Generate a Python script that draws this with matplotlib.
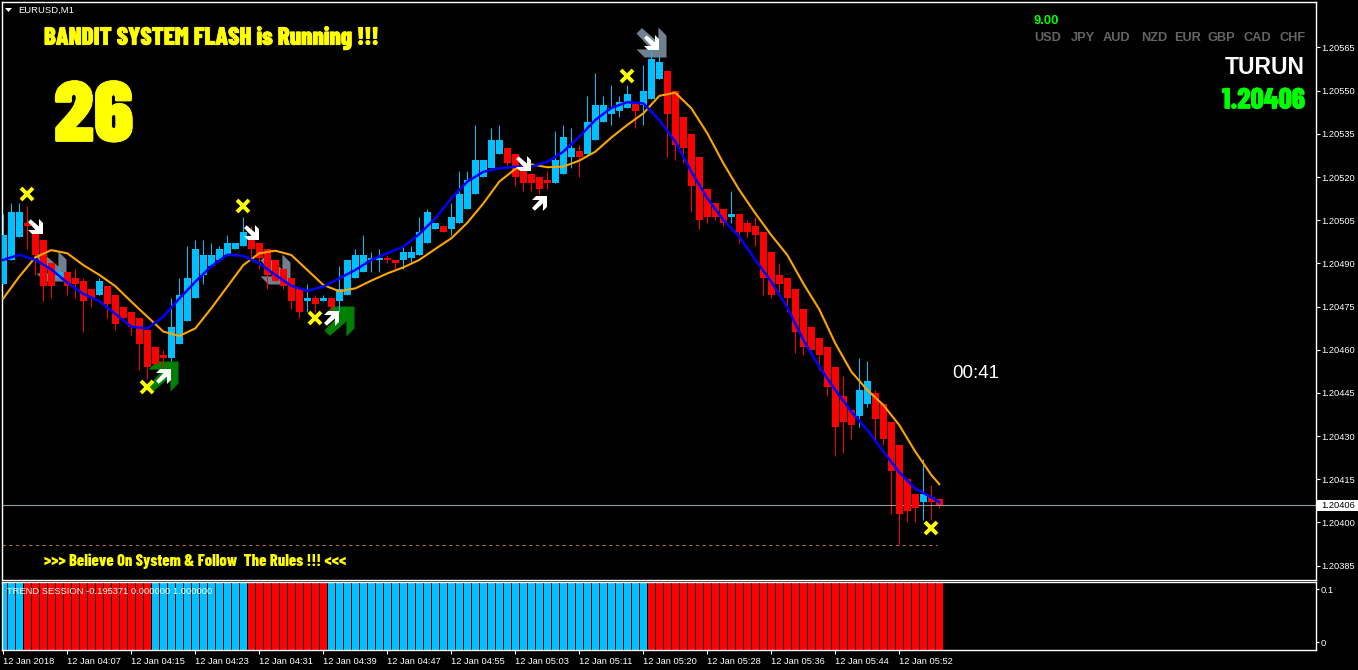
#!/usr/bin/env python3
"""EURUSD M1 terminal chart with the trend session panel underneath."""

import numpy as np
import matplotlib
matplotlib.use("Agg")
import matplotlib.pyplot as plt
from matplotlib.path import Path
from matplotlib.patheffects import withStroke

W, H = 1358, 670
BAR_PX = 8.0
BAR_X0 = 3.3

# prices are kept in points above 1.20000
open_pts = [483, 491, 499, 504, 501, 498, 490, 485, 487, 485, 484, 481, 479, 482, 479, 475, 473, 471, 467, 461,
            458, 457, 462, 470, 478, 486, 489, 491, 493, 495, 496, 499, 497, 495, 491, 488, 485, 481, 477, 478,
            477, 478, 477, 479, 485, 487, 491, 491, 492, 491, 491, 492, 493, 497, 502, 503, 502, 504, 509, 514,
            520, 523, 528, 530, 528, 524, 521, 520, 518, 518, 521, 527, 529, 528, 533, 539, 542, 543, 544, 546,
            545, 547, 554, 557, 550, 541, 535, 527, 516, 511, 509, 506, 507, 504, 503, 501, 494, 486, 485, 481,
            474, 468, 464, 461, 454, 444, 439, 437, 441, 445, 441, 435, 427, 415, 410, 407, 409, 408]
close_pts = [500, 508, 508, 503, 493, 482, 482, 487, 482, 483, 477, 478, 484, 476, 469, 471, 468, 462, 454, 455,
             457, 468, 479, 485, 495, 493, 493, 495, 497, 497, 501, 495, 492, 486, 484, 482, 477, 473, 478, 476,
             478, 475, 481, 491, 493, 493, 492, 492, 491, 490, 494, 494, 501, 508, 504, 501, 506, 514, 519, 526,
             526, 533, 533, 525, 520, 518, 518, 516, 518, 526, 534, 530, 527, 539, 545, 545, 544, 546, 549, 543,
             550, 561, 560, 542, 531, 530, 517, 505, 506, 506, 504, 507, 501, 501, 500, 485, 479, 483, 478, 466,
             461, 460, 458, 447, 433, 435, 434, 446, 449, 436, 429, 418, 403, 404, 405, 410, 407, 406]
high_pts = [507, 511, 511, 510, 504, 498, 490, 489, 487, 488, 485, 481, 485, 482, 479, 475, 473, 471, 467, 461,
            460, 478, 485, 496, 498, 498, 497, 496, 500, 497, 506, 503, 497, 495, 491, 488, 485, 481, 483, 479,
            479, 478, 489, 491, 495, 500, 494, 495, 493, 491, 496, 496, 506, 509, 504, 503, 511, 522, 522, 538,
            526, 537, 538, 530, 528, 524, 521, 520, 522, 536, 538, 537, 531, 548, 556, 548, 552, 548, 552, 546,
            559, 564, 562, 557, 550, 541, 535, 527, 516, 511, 509, 515, 507, 505, 506, 501, 494, 490, 485, 481,
            474, 468, 464, 461, 454, 451, 439, 457, 456, 446, 441, 435, 427, 415, 410, 422, 413, 408]
low_pts = [483, 491, 499, 495, 486, 477, 478, 485, 479, 478, 466, 475, 479, 471, 467, 471, 465, 453, 450, 455,
           454, 456, 462, 470, 478, 483, 489, 491, 493, 495, 496, 492, 488, 481, 484, 481, 474, 471, 473, 473,
           477, 472, 473, 479, 485, 487, 487, 487, 490, 488, 488, 490, 493, 497, 502, 501, 500, 504, 509, 514,
           520, 523, 528, 524, 517, 515, 515, 514, 516, 518, 521, 523, 520, 528, 533, 539, 538, 541, 544, 537,
           538, 547, 554, 527, 526, 525, 508, 502, 504, 505, 503, 504, 497, 499, 496, 479, 478, 480, 473, 459,
           458, 460, 453, 444, 423, 424, 429, 433, 440, 429, 427, 403, 392, 400, 400, 401, 401, 405]

# moving averages read every second bar
ma_bars = [0, 2, 4, 6, 8, 10, 12, 14, 16, 18, 20, 22, 24, 26, 28, 30, 32, 34, 36, 38,
           40, 42, 44, 46, 48, 50, 52, 54, 56, 58, 60, 62, 64, 66, 68, 70, 72, 74, 76, 78,
           80, 82, 84, 86, 88, 90, 92, 94, 96, 98, 100, 102, 104, 106, 108, 110, 112, 114, 116, 117]
fast_ma = [491.2, 493.0, 491.2, 487.9, 483.3, 479.4, 476.9, 472.4, 468.0, 467.4, 471.5, 477.8, 483.6, 489.0, 493.0,
           492.6, 490.0, 486.0, 482.2, 480.5, 481.9, 484.8, 487.7, 491.2, 493.5, 495.8, 500.2, 505.6, 512.6, 518.4,
           521.8, 523.0, 523.6, 523.6, 525.3, 528.8, 534.0, 539.8, 544.0, 546.0, 545.6, 539.8, 532.3, 521.9, 512.6,
           505.1, 499.3, 491.2, 483.6, 474.7, 463.4, 454.1, 446.0, 438.5, 432.1, 424.6, 417.4, 411.8, 408.7, 407.0]
slow_ma = [477.8, 485.4, 492.1, 494.6, 493.5, 489.4, 486.0, 482.1, 476.7, 471.5, 466.3, 464.8, 467.4, 474.4, 481.9,
           489.4, 493.5, 494.4, 492.9, 487.7, 482.5, 480.3, 481.3, 484.0, 486.5, 488.6, 491.2, 495.0, 498.7, 504.1,
           510.8, 518.4, 522.8, 524.4, 523.4, 523.6, 525.7, 528.8, 533.7, 538.1, 542.1, 548.2, 549.3, 543.9, 535.2,
           524.8, 515.5, 507.4, 499.8, 492.9, 483.0, 474.0, 462.2, 452.4, 446.0, 440.8, 433.8, 424.6, 416.5, 413.3]

# signals as (bar, points)
cross_bars = [3, 30, 18, 39, 78, 116]
cross_pts = [514, 510, 447, 471, 555, 398]
white_down_bars = [4, 31, 65, 81]
white_down_pts = [503, 501, 525, 567]
white_up_bars = [20, 41, 67]
white_up_pts = [451, 471, 511]
grey_down_bars = [6, 34, 81]
grey_down_pts = [489, 488, 567]
green_up_bars = [20, 42]
green_up_pts = [451, 470]

last_pts = 406
day_low_pts = 392
price_ticks = [565, 550, 535, 520, 505, 490, 475, 460, 445, 430, 415, 400, 385]

# trend session panel
session_up = [1, 1, 1] + [0] * 16 + [1] * 12 + [0] * 10 + [1] * 40 + [0] * 37
session_low = -0.195371
session_high = 1.0

time_labels = ["12 Jan 2018", "12 Jan 04:07", "12 Jan 04:15", "12 Jan 04:23", "12 Jan 04:31",
               "12 Jan 04:39", "12 Jan 04:47", "12 Jan 04:55", "12 Jan 05:03", "12 Jan 05:11",
               "12 Jan 05:20", "12 Jan 05:28", "12 Jan 05:36", "12 Jan 05:44", "12 Jan 05:52"]
currencies = ["USD", "JPY", "AUD", "NZD", "EUR", "GBP", "CAD", "CHF"]
currency_x = [1034, 1071, 1103, 1141, 1174, 1207, 1243, 1279]

CANDLE_UP = "#00BFFF"
CANDLE_DOWN = "#FF0000"
YELLOW = "#FFFF00"
UI_FONT = ["Liberation Sans", "DejaVu Sans"]
HEAVY_FONT = ["Barlow Condensed", "Liberation Sans", "DejaVu Sans"]


def price(points):
    return 1.2 + np.asarray(points, dtype=float) / 1e5


def pixel_axes(fig, x0, y0, x1, y1):
    ax = fig.add_axes([x0 / W, 1 - y1 / H, (x1 - x0) / W, (y1 - y0) / H], facecolor="black")
    ax.set_xlim((x0 - BAR_X0) / BAR_PX, (x1 - BAR_X0) / BAR_PX)
    for s in ax.spines.values():
        s.set_color("white")
        s.set_linewidth(1.0)
    return ax


def label(fig, x, y, text, **kw):
    kw.setdefault("va", "center")
    kw.setdefault("family", UI_FONT)
    return fig.text(x / W, 1 - y / H, text, **kw)


def arrow_path(up=False):
    # fat arrow with its point at the lower right corner
    pts = np.array([(0.46, 1), (1, 0.46), (1, -1), (-0.46, -1), (-1, -0.46), (0.0, -0.46),
                    (-1, 0.6), (-0.64, 0.96), (0.46, 0.0), (0.46, 1)])
    if up:
        pts = pts * [1, -1]
    return Path(pts, closed=True)


fig = plt.figure(figsize=(W / 100, H / 100), dpi=100, facecolor="black")
ax = pixel_axes(fig, 2, 2, 1315.5, 580)
ax.set_ylim(price(380), price(580.8))

bars = np.arange(len(open_pts))
o, c, h, l = price(open_pts), price(close_pts), price(high_pts), price(low_pts)
colors = [CANDLE_UP if cp >= op and cp != op or i == 91 else CANDLE_DOWN
          for i, (op, cp) in enumerate(zip(open_pts, close_pts))]

# big arrows sit behind the candles
ax.plot(grey_down_bars, price(grey_down_pts), ls="none", marker=arrow_path(), ms=21.6,
        mfc="#708090", mew=0, zorder=1)
ax.plot(green_up_bars, price(green_up_pts), ls="none", marker=arrow_path(up=True), ms=21.6,
        mfc="#008000", mew=0, zorder=1)

ax.vlines(bars, l, h, colors=colors, linewidth=0.72, zorder=2)
ax.bar(bars, np.maximum(np.abs(c - o), 1e-5), bottom=np.minimum(o, c), width=0.875,
       color=colors, linewidth=0, zorder=3)

ax.plot(ma_bars, price(slow_ma), color="#FFA500", lw=1.5, zorder=4)
ax.plot(ma_bars, price(fast_ma), color="#0000FF", lw=1.8, zorder=5)

ax.plot(white_down_bars, price(white_down_pts), ls="none", marker=arrow_path(), ms=10.8,
        mfc="white", mew=0, zorder=6)
ax.plot(white_up_bars, price(white_up_pts), ls="none", marker=arrow_path(up=True), ms=10.8,
        mfc="white", mew=0, zorder=6)
ax.plot(cross_bars, price(cross_pts), ls="none", marker="x", ms=8.5, mec=YELLOW, mew=2.8, zorder=6)

ax.axhline(price(last_pts), color="#8f9aa3", lw=0.8, zorder=2)
ax.plot([bars[0] - 0.2, 117 - 0.3], price([day_low_pts, day_low_pts]), color="#a8704c", lw=0.8,
        ls=(0, (3, 3)), zorder=2)

ax.set_xticks([])
ax.yaxis.tick_right()
ax.set_yticks(price(price_ticks))
ax.set_yticklabels([f"{v:.5f}" for v in price(price_ticks)], fontsize=6.7, color="white", family=UI_FONT)
ax.tick_params(axis="y", length=3, width=0.8, color="white", pad=1.5)

# current price box on the right scale
fig.patches.append(plt.Rectangle((1317 / W, 1 - 511 / H), 41 / W, 11 / H, transform=fig.transFigure,
                                 facecolor="white", edgecolor="none", zorder=5))
label(fig, 1321, 505.5, f"{price(last_pts):.5f}", color="black", fontsize=6.7, zorder=6)

# panel under the price chart
sub = pixel_axes(fig, 2, 582, 1315.5, 649.5)
sub.set_ylim(-0.0132, 0.1132)
session_colors = [CANDLE_UP if u else CANDLE_DOWN for u in session_up]
sub.bar(bars, session_high - session_low, bottom=session_low, width=0.875, color=session_colors, linewidth=0)
sub.yaxis.tick_right()
sub.set_yticks([0.1, 0])
sub.set_yticklabels(["0.1", "0"], fontsize=6.7, color="white", family=UI_FONT)
sub.tick_params(axis="y", length=2, width=0.8, color="white", pad=1.5)
sub.set_xticks(bars[::8])
sub.set_xticklabels(time_labels, fontsize=6.7, color="white", family=UI_FONT, ha="left")
sub.tick_params(axis="x", length=3, width=0.8, color="white", pad=2.5)
label(fig, 7, 591, "TREND SESSION -0.195371 0.000000 1.000000", color="white", fontsize=6.75)

# chart comments and dashboard text
fig.patches.append(plt.Polygon([(5 / W, 1 - 8 / H), (12 / W, 1 - 8 / H), (8.5 / W, 1 - 12 / H)],
                               transform=fig.transFigure, facecolor="white", edgecolor="none"))
label(fig, 18, 10.5, "EURUSD,M1", color="white", fontsize=6.8)
thick = [withStroke(linewidth=0.5, foreground=YELLOW)]
label(fig, 44, 38.5, "BANDIT SYSTEM FLASH is Running !!!", color=YELLOW, fontsize=18, weight=800,
      family=HEAVY_FONT, path_effects=thick)
label(fig, 54, 119, "26", color=YELLOW, fontsize=62, weight=900, family=HEAVY_FONT, path_effects=thick)
label(fig, 44, 561, ">>> Believe On System & Follow  The Rules !!! <<<", color=YELLOW, fontsize=11.8,
      weight=800, family=HEAVY_FONT)
label(fig, 1034, 21, "9.00", color="#00FF00", fontsize=9.4, weight="bold")
for name, x in zip(currencies, currency_x):
    label(fig, x, 38, name, color="#646464", fontsize=9.2, weight="bold")
label(fig, 1305, 68, "TURUN", color="white", fontsize=16.5, weight="bold", ha="right")
label(fig, 1305, 101, f"{price(last_pts):.5f}", color="#00FF00", fontsize=21, ha="right", weight=800,
      family=HEAVY_FONT, path_effects=[withStroke(linewidth=0.4, foreground="#00FF00")])
label(fig, 952, 373, "00:41", color="white", fontsize=13.5)

fig.savefig("out.png", dpi=100, facecolor="black")
